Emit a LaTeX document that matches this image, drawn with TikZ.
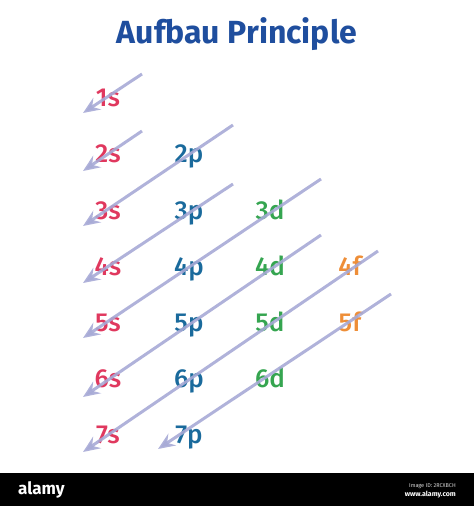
\documentclass[tikz,border=0pt]{standalone}
\usepackage{fontspec}
\setmainfont{Fira Sans}
\newfontfamily\medfont{Fira Sans Medium}
\usetikzlibrary{arrows.meta}
\definecolor{titleblue}{HTML}{1F4E9E}
\definecolor{sred}{HTML}{E0385E}
\definecolor{pblue}{HTML}{1A6A9C}
\definecolor{dgreen}{HTML}{35A550}
\definecolor{forange}{HTML}{EE8E38}
\definecolor{arrowlav}{HTML}{A7AAD6}
\tikzstyle{orb} = [anchor=base, inner sep=0pt, font=\medfont\fontsize{26}{26}\selectfont]
\tikzstyle{fill_arrow} = [draw=arrowlav, line width=3pt, opacity=.9, -{Stealth[length=17pt,width=14pt,inset=6pt]}]

\begin{document}
\begin{tikzpicture}[x=1pt,y=-1pt]
    \useasboundingbox (0,0) rectangle (474,506);
    \draw (237,43) node[anchor=base, inner sep=0pt, text=titleblue, font=\fontsize{32}{32}\selectfont\bfseries] (title) {Aufbau Principle};
    % s
    \draw (108,106) node[orb, text=sred] (s1) {1s};
    \draw (108,162) node[orb, text=sred] (s2) {2s};
    \draw (108,219) node[orb, text=sred] (s3) {3s};
    \draw (108,275) node[orb, text=sred] (s4) {4s};
    \draw (108,331) node[orb, text=sred] (s5) {5s};
    \draw (108,387) node[orb, text=sred] (s6) {6s};
    \draw (108,443) node[orb, text=sred] (s7) {7s};
    % p
    \draw (189,162) node[orb, text=pblue] (p2) {2p};
    \draw (189,219) node[orb, text=pblue] (p3) {3p};
    \draw (189,275) node[orb, text=pblue] (p4) {4p};
    \draw (189,331) node[orb, text=pblue] (p5) {5p};
    \draw (189,387) node[orb, text=pblue] (p6) {6p};
    \draw (189,443) node[orb, text=pblue] (p7) {7p};
    % d
    \draw (270,219) node[orb, text=dgreen] (d3) {3d};
    \draw (270,275) node[orb, text=dgreen] (d4) {4d};
    \draw (270,331) node[orb, text=dgreen] (d5) {5d};
    \draw (270,387) node[orb, text=dgreen] (d6) {6d};
    % f
    \draw (350,275) node[orb, text=forange] (f4) {4f};
    \draw (350,331) node[orb, text=forange] (f5) {5f};
    % arrow ends
    \coordinate (a1) at (142,74);  \coordinate (b1) at (83,113);
    \coordinate (a2) at (142,131); \coordinate (b2) at (83,171);
    \coordinate (a3) at (233,125); \coordinate (b3) at (83,226);
    \coordinate (a4) at (233,184); \coordinate (b4) at (83,283);
    \coordinate (a5) at (321,179); \coordinate (b5) at (83,338);
    \coordinate (a6) at (321,235); \coordinate (b6) at (83,397);
    \coordinate (a7) at (378,251); \coordinate (b7) at (83,452);
    \coordinate (a8) at (391,294); \coordinate (b8) at (158,449);
    \draw[fill_arrow] (a1) -- (b1);
    \draw[fill_arrow] (a2) -- (b2);
    \draw[fill_arrow] (a3) -- (b3);
    \draw[fill_arrow] (a4) -- (b4);
    \draw[fill_arrow] (a5) -- (b5);
    \draw[fill_arrow] (a6) -- (b6);
    \draw[fill_arrow] (a7) -- (b7);
    \draw[fill_arrow] (a8) -- (b8);
    % footer
    \fill[black] (0,473) rectangle (474,506);
    \draw (18,494) node[anchor=base west, inner sep=0pt, text=white, font=\fontsize{17}{17}\selectfont\bfseries] (brand) {alamy};
    \draw (456,487) node[anchor=base east, inner sep=0pt, text=white!85!black, font=\fontsize{5.5}{6}\selectfont] (imgid) {Image ID: 2RCXBCH};
    \draw (456,496) node[anchor=base east, inner sep=0pt, text=white, font=\fontsize{7}{8}\selectfont\bfseries] (site) {www.alamy.com};
\end{tikzpicture}
\end{document}
